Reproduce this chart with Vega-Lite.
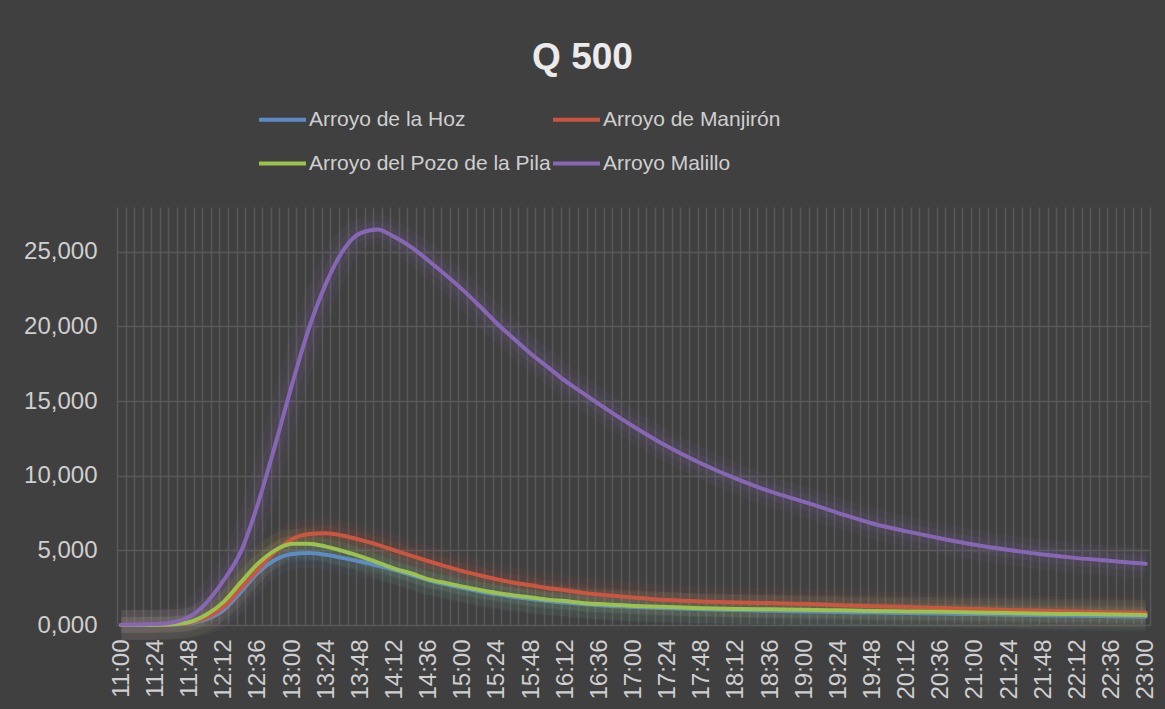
{
  "$schema": "https://vega.github.io/schema/vega-lite/v6.json",
  "autosize": {"type": "none"},
  "width": 1033,
  "height": 418,
  "padding": {"left": 117, "top": 207, "right": 15, "bottom": 84},
  "background": "#404040",
  "config": {
    "view": {"stroke": null},
    "font": "Liberation Sans",
    "axis": {"labelFont": "Liberation Sans", "labelColor": "#cfcfcf", "domain": false, "ticks": false, "gridColor": "#585858", "gridWidth": 1.5, "gridOpacity": 1, "title": null},
    "legend": {"labelFont": "Liberation Sans"}
  },
  "title": {"text": "Q 500", "color": "#ebebeb", "fontSize": 37, "fontWeight": "bold", "font": "Liberation Sans", "anchor": "middle", "dx": -51, "offset": 17},
  "data": {"values": [
    {"min": 660, "Arroyo de la Hoz": 0, "Arroyo de Manjirón": 0, "Arroyo del Pozo de la Pila": 0, "Arroyo Malillo": 0.02},
    {"min": 672, "Arroyo de la Hoz": 0, "Arroyo de Manjirón": 0, "Arroyo del Pozo de la Pila": 0, "Arroyo Malillo": 0.03},
    {"min": 684, "Arroyo de la Hoz": 0.01, "Arroyo de Manjirón": 0.01, "Arroyo del Pozo de la Pila": 0.01, "Arroyo Malillo": 0.06},
    {"min": 696, "Arroyo de la Hoz": 0.03, "Arroyo de Manjirón": 0.04, "Arroyo del Pozo de la Pila": 0.05, "Arroyo Malillo": 0.17},
    {"min": 708, "Arroyo de la Hoz": 0.12, "Arroyo de Manjirón": 0.15, "Arroyo del Pozo de la Pila": 0.2, "Arroyo Malillo": 0.55},
    {"min": 720, "Arroyo de la Hoz": 0.4, "Arroyo de Manjirón": 0.5, "Arroyo del Pozo de la Pila": 0.7, "Arroyo Malillo": 1.5},
    {"min": 732, "Arroyo de la Hoz": 1.0, "Arroyo de Manjirón": 1.2, "Arroyo del Pozo de la Pila": 1.55, "Arroyo Malillo": 3.0},
    {"min": 744, "Arroyo de la Hoz": 2.2, "Arroyo de Manjirón": 2.45, "Arroyo del Pozo de la Pila": 2.85, "Arroyo Malillo": 4.9},
    {"min": 756, "Arroyo de la Hoz": 3.5, "Arroyo de Manjirón": 3.7, "Arroyo del Pozo de la Pila": 4.1, "Arroyo Malillo": 8.1},
    {"min": 768, "Arroyo de la Hoz": 4.35, "Arroyo de Manjirón": 4.9, "Arroyo del Pozo de la Pila": 5.0, "Arroyo Malillo": 12.0},
    {"min": 780, "Arroyo de la Hoz": 4.75, "Arroyo de Manjirón": 5.75, "Arroyo del Pozo de la Pila": 5.45, "Arroyo Malillo": 16.1},
    {"min": 792, "Arroyo de la Hoz": 4.83, "Arroyo de Manjirón": 6.1, "Arroyo del Pozo de la Pila": 5.45, "Arroyo Malillo": 19.9},
    {"min": 804, "Arroyo de la Hoz": 4.7, "Arroyo de Manjirón": 6.15, "Arroyo del Pozo de la Pila": 5.25, "Arroyo Malillo": 22.9},
    {"min": 816, "Arroyo de la Hoz": 4.48, "Arroyo de Manjirón": 5.98, "Arroyo del Pozo de la Pila": 4.95, "Arroyo Malillo": 25.1},
    {"min": 828, "Arroyo de la Hoz": 4.25, "Arroyo de Manjirón": 5.7, "Arroyo del Pozo de la Pila": 4.6, "Arroyo Malillo": 26.25},
    {"min": 840, "Arroyo de la Hoz": 3.98, "Arroyo de Manjirón": 5.38, "Arroyo del Pozo de la Pila": 4.2, "Arroyo Malillo": 26.5},
    {"min": 852, "Arroyo de la Hoz": 3.68, "Arroyo de Manjirón": 5.0, "Arroyo del Pozo de la Pila": 3.78, "Arroyo Malillo": 26.0},
    {"min": 864, "Arroyo de la Hoz": 3.35, "Arroyo de Manjirón": 4.63, "Arroyo del Pozo de la Pila": 3.45, "Arroyo Malillo": 25.3},
    {"min": 876, "Arroyo de la Hoz": 3.0, "Arroyo de Manjirón": 4.27, "Arroyo del Pozo de la Pila": 3.06, "Arroyo Malillo": 24.4},
    {"min": 888, "Arroyo de la Hoz": 2.72, "Arroyo de Manjirón": 3.93, "Arroyo del Pozo de la Pila": 2.81, "Arroyo Malillo": 23.45},
    {"min": 900, "Arroyo de la Hoz": 2.47, "Arroyo de Manjirón": 3.61, "Arroyo del Pozo de la Pila": 2.57, "Arroyo Malillo": 22.45},
    {"min": 912, "Arroyo de la Hoz": 2.25, "Arroyo de Manjirón": 3.33, "Arroyo del Pozo de la Pila": 2.35, "Arroyo Malillo": 21.35},
    {"min": 924, "Arroyo de la Hoz": 2.05, "Arroyo de Manjirón": 3.06, "Arroyo del Pozo de la Pila": 2.15, "Arroyo Malillo": 20.2},
    {"min": 936, "Arroyo de la Hoz": 1.88, "Arroyo de Manjirón": 2.83, "Arroyo del Pozo de la Pila": 1.98, "Arroyo Malillo": 19.17},
    {"min": 948, "Arroyo de la Hoz": 1.74, "Arroyo de Manjirón": 2.66, "Arroyo del Pozo de la Pila": 1.84, "Arroyo Malillo": 18.15},
    {"min": 960, "Arroyo de la Hoz": 1.6, "Arroyo de Manjirón": 2.46, "Arroyo del Pozo de la Pila": 1.7, "Arroyo Malillo": 17.26},
    {"min": 972, "Arroyo de la Hoz": 1.5, "Arroyo de Manjirón": 2.33, "Arroyo del Pozo de la Pila": 1.6, "Arroyo Malillo": 16.35},
    {"min": 984, "Arroyo de la Hoz": 1.4, "Arroyo de Manjirón": 2.16, "Arroyo del Pozo de la Pila": 1.48, "Arroyo Malillo": 15.56},
    {"min": 996, "Arroyo de la Hoz": 1.32, "Arroyo de Manjirón": 2.04, "Arroyo del Pozo de la Pila": 1.4, "Arroyo Malillo": 14.78},
    {"min": 1020, "Arroyo de la Hoz": 1.2, "Arroyo de Manjirón": 1.84, "Arroyo del Pozo de la Pila": 1.28, "Arroyo Malillo": 13.3},
    {"min": 1044, "Arroyo de la Hoz": 1.12, "Arroyo de Manjirón": 1.67, "Arroyo del Pozo de la Pila": 1.2, "Arroyo Malillo": 11.95},
    {"min": 1068, "Arroyo de la Hoz": 1.05, "Arroyo de Manjirón": 1.57, "Arroyo del Pozo de la Pila": 1.13, "Arroyo Malillo": 10.8},
    {"min": 1092, "Arroyo de la Hoz": 1.0, "Arroyo de Manjirón": 1.51, "Arroyo del Pozo de la Pila": 1.08, "Arroyo Malillo": 9.8},
    {"min": 1116, "Arroyo de la Hoz": 0.95, "Arroyo de Manjirón": 1.47, "Arroyo del Pozo de la Pila": 1.05, "Arroyo Malillo": 8.95},
    {"min": 1140, "Arroyo de la Hoz": 0.91, "Arroyo de Manjirón": 1.4, "Arroyo del Pozo de la Pila": 1.02, "Arroyo Malillo": 8.25},
    {"min": 1164, "Arroyo de la Hoz": 0.87, "Arroyo de Manjirón": 1.33, "Arroyo del Pozo de la Pila": 0.98, "Arroyo Malillo": 7.5},
    {"min": 1188, "Arroyo de la Hoz": 0.83, "Arroyo de Manjirón": 1.26, "Arroyo del Pozo de la Pila": 0.94, "Arroyo Malillo": 6.8},
    {"min": 1212, "Arroyo de la Hoz": 0.8, "Arroyo de Manjirón": 1.2, "Arroyo del Pozo de la Pila": 0.91, "Arroyo Malillo": 6.27},
    {"min": 1236, "Arroyo de la Hoz": 0.77, "Arroyo de Manjirón": 1.14, "Arroyo del Pozo de la Pila": 0.88, "Arroyo Malillo": 5.8},
    {"min": 1260, "Arroyo de la Hoz": 0.73, "Arroyo de Manjirón": 1.07, "Arroyo del Pozo de la Pila": 0.84, "Arroyo Malillo": 5.37},
    {"min": 1284, "Arroyo de la Hoz": 0.69, "Arroyo de Manjirón": 1.01, "Arroyo del Pozo de la Pila": 0.8, "Arroyo Malillo": 5.02},
    {"min": 1308, "Arroyo de la Hoz": 0.66, "Arroyo de Manjirón": 0.95, "Arroyo del Pozo de la Pila": 0.76, "Arroyo Malillo": 4.72},
    {"min": 1332, "Arroyo de la Hoz": 0.62, "Arroyo de Manjirón": 0.9, "Arroyo del Pozo de la Pila": 0.73, "Arroyo Malillo": 4.48},
    {"min": 1356, "Arroyo de la Hoz": 0.59, "Arroyo de Manjirón": 0.86, "Arroyo del Pozo de la Pila": 0.7, "Arroyo Malillo": 4.29},
    {"min": 1380, "Arroyo de la Hoz": 0.56, "Arroyo de Manjirón": 0.82, "Arroyo del Pozo de la Pila": 0.67, "Arroyo Malillo": 4.1}
  ]},
  "transform": [
    {"fold": ["Arroyo de la Hoz", "Arroyo de Manjirón", "Arroyo del Pozo de la Pila", "Arroyo Malillo"], "as": ["serie", "q"]}
  ],
  "encoding": {
    "x": {
      "field": "min", "type": "quantitative",
      "scale": {"domain": [657, 1383], "nice": false, "zero": false},
      "axis": {
        "values": [657,663,669,675,681,687,693,699,705,711,717,723,729,735,741,747,753,759,765,771,777,783,789,795,801,807,813,819,825,831,837,843,849,855,861,867,873,879,885,891,897,903,909,915,921,927,933,939,945,951,957,963,969,975,981,987,993,999,1005,1011,1017,1023,1029,1035,1041,1047,1053,1059,1065,1071,1077,1083,1089,1095,1101,1107,1113,1119,1125,1131,1137,1143,1149,1155,1161,1167,1173,1179,1185,1191,1197,1203,1209,1215,1221,1227,1233,1239,1245,1251,1257,1263,1269,1275,1281,1287,1293,1299,1305,1311,1317,1323,1329,1335,1341,1347,1353,1359,1365,1371,1377,1383],
        "labelExpr": "(datum.value - 657) % 24 == 0 ? (floor((datum.value + 3) / 60) + ':' + ((datum.value + 3) % 60 < 10 ? '0' : '') + ((datum.value + 3) % 60)) : ''",
        "labelAngle": -90, "labelOffset": 4.27, "labelPadding": 14, "labelFontSize": 24,
        "labelOverlap": false, "labelFlush": false, "labelBound": false
      }
    },
    "y": {
      "field": "q", "type": "quantitative",
      "scale": {"domain": [0, 28], "nice": false},
      "axis": {"values": [0, 5, 10, 15, 20, 25], "labelExpr": "replace(format(datum.value, '.3f'), '.', ',')", "labelPadding": 20, "labelFontSize": 24}
    },
    "color": {
      "field": "serie", "type": "nominal",
      "scale": {
        "domain": ["Arroyo de la Hoz", "Arroyo de Manjirón", "Arroyo del Pozo de la Pila", "Arroyo Malillo"],
        "range": ["#5b8cc4", "#cc5540", "#9cc24e", "#8767b5"]
      },
      "legend": {
        "title": null, "orient": "none", "legendX": 140, "legendY": -113, "columns": 2, "direction": "horizontal",
        "symbolType": "stroke", "symbolSize": 2209, "symbolStrokeWidth": 4, "symbolOpacity": 1,
        "labelFontSize": 21, "labelColor": "#cfcfcf", "labelOffset": 1, "rowPadding": 8, "columnPadding": -6,
        "labelLimit": 400
      }
    }
  },
  "layer": [
    {"mark": {"type": "line", "interpolate": "monotone", "strokeWidth": 30, "opacity": 0.07}},
    {"mark": {"type": "line", "interpolate": "monotone", "strokeWidth": 16, "opacity": 0.1}},
    {"mark": {"type": "line", "interpolate": "monotone", "strokeWidth": 4, "strokeCap": "round"}}
  ]
}
